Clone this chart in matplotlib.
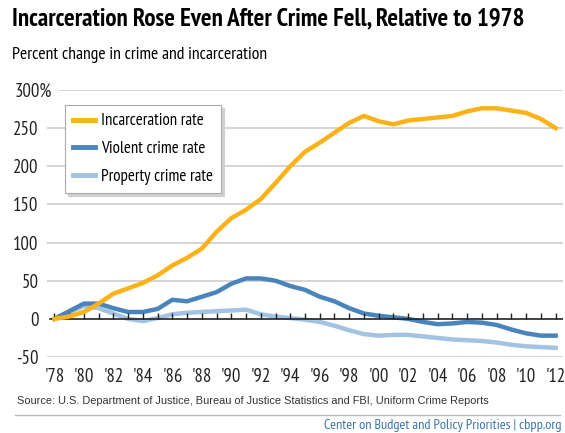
import numpy as np
import matplotlib.pyplot as plt
from matplotlib.lines import Line2D
from matplotlib.transforms import ScaledTranslation

years = list(range(1978, 2013))

# percent change relative to 1978
incarceration = [0, 3, 9, 20, 33, 40, 47, 57, 70, 80, 92, 114, 132, 143, 157, 178, 200, 219, 231, 244, 257, 266,
                 259, 255, 260, 262, 264, 266, 272, 276, 276, 273, 270, 262, 250]
violent = [0, 10, 20, 20, 14, 9, 9, 13, 25, 23, 29, 35, 46, 53, 53, 50, 43, 38, 29, 23, 14, 7,
           4, 2, 0, -4, -7, -6, -4, -5, -8, -14, -19, -22, -22]
prop = [0, 8, 17, 14, 7, 0, -3, 1, 6, 8, 9, 10, 11, 12, 6, 3, 1, -1, -4, -9, -15, -20,
        -22, -21, -21, -23, -25, -27, -28, -29, -31, -34, -36, -37, -38]

yticks = [-50, 0, 50, 100, 150, 200, 250, 300]
ytick_labels = ['-50', '0', '50', '100', '150', '200', '250', '300%']
xtick_years = list(range(1978, 2013, 2))
xtick_labels = ["'%02d" % (y % 100) for y in xtick_years]
series_names = ['Incarceration rate', 'Violent crime rate', 'Property crime rate']

ORANGE = '#FBB217'
BLUE = '#4A84BC'
LIGHT = '#A2C3E2'
NARROW = ['PT Sans Narrow', 'DejaVu Sans']

fig = plt.figure(figsize=(5.65, 4.33), dpi=100)
ax = fig.add_axes([47 / 565, 1 - 357 / 433, (563 - 47) / 565, (357 - 90) / 433])

for y in yticks:
    if y == 300:
        ax.axhline(y, xmin=13 / 516, color='#d4d4d4', lw=1.4, zorder=0)
    elif y != 0:
        ax.axhline(y, color='#d4d4d4', lw=1.4, zorder=0)
ax.axhline(0, xmin=3 / 516, color='#222222', lw=1.2, zorder=4)
for yr in years:
    ax.plot([yr, yr], [0, 8], color='#222222', lw=1.0, zorder=4, solid_capstyle='butt')

ax.plot(years, prop, color=LIGHT, lw=3.2, zorder=2, solid_joinstyle='round')
ax.plot(years, violent, color=BLUE, lw=3.2, zorder=3, solid_joinstyle='round')
ax.plot(years, incarceration, color=ORANGE, lw=3.2, zorder=5, solid_joinstyle='round')

ax.set_xlim(1977.5, 2012.5)
ax.set_ylim(-50, 300)
ax.set_yticks(yticks)
ax.set_yticklabels(ytick_labels, family=NARROW, fontsize=13.5, color='#222222')
ax.set_xticks(xtick_years)
ax.set_xticklabels(xtick_labels, family=NARROW, fontsize=13.5, color='#222222')
ax.tick_params(length=0)
ax.tick_params(axis='y', pad=6)
ax.tick_params(axis='x', pad=8)
for s in ax.spines.values():
    s.set_visible(False)
# the % sign of the top label hangs past the other labels
top_label = ax.get_yticklabels()[-1]
top_label.set_transform(top_label.get_transform() + ScaledTranslation(10 / 72, 0, fig.dpi_scale_trans))

handles = [Line2D([], [], color=c, lw=3.5) for c in (ORANGE, BLUE, LIGHT)]
leg = ax.legend(handles, series_names,
                loc='upper left', bbox_to_anchor=(18 / 516, 1 - 15 / 267), borderaxespad=0,
                prop={'family': NARROW, 'size': 12.2}, frameon=True, fancybox=False,
                shadow={'color': '#d0d0d0', 'alpha': 1}, edgecolor='#aaaaaa',
                handlelength=1.25, handletextpad=0.35, labelspacing=0.68, borderpad=0.5)
leg.get_frame().set_linewidth(0.8)
leg.set_zorder(6)

fig.text(12 / 565, 1 - 19 / 433, 'Incarceration Rose Even After Crime Fell, Relative to 1978',
         family=NARROW, fontsize=18, fontweight='bold', va='center', ha='left')
fig.text(12 / 565, 1 - 55 / 433, 'Percent change in crime and incarceration',
         family=NARROW, fontsize=12.7, va='center', ha='left')
fig.text(17 / 565, 1 - 401 / 433,
         'Source: U.S. Department of Justice, Bureau of Justice Statistics and FBI, Uniform Crime Reports',
         family='Liberation Sans', fontsize=7.9, color='#333333', va='center', ha='left')
fig.add_artist(Line2D([15 / 565, 560 / 565], [1 - 415 / 433, 1 - 415 / 433],
                      color='#bbbbbb', lw=1.0, transform=fig.transFigure))
fig.text(562 / 565, 1 - 425 / 433, 'Center on Budget and Policy Priorities | cbpp.org',
         family=NARROW, fontsize=10.3, color='#3b73ad', va='center', ha='right')

fig.savefig('out.png', dpi=100)
